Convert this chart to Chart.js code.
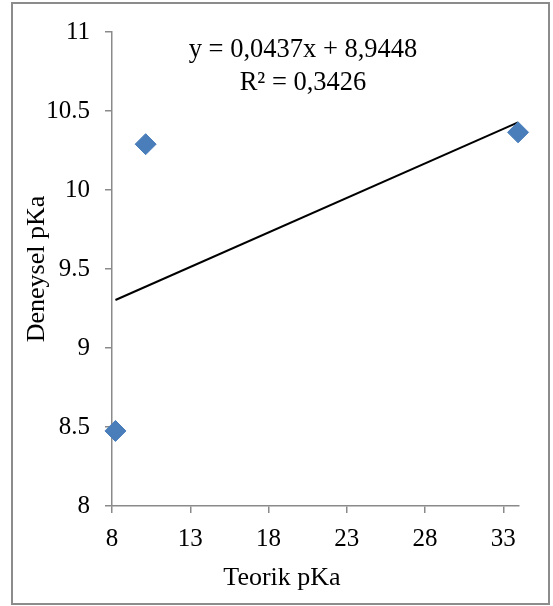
<!DOCTYPE html>
<html>
<head>
<meta charset="utf-8">
<script src="https://cdn.jsdelivr.net/npm/chart.js@4.4.1/dist/chart.umd.min.js"></script>
<style>
  html, body { margin: 0; padding: 0; background: #ffffff; }
  #wrap { width: 553px; height: 606px; position: relative; }
</style>
</head>
<body>
<div id="wrap"><canvas id="c" width="553" height="606"></canvas></div>
<script>
// ---- data ----
const teorikPKa   = [8.22, 10.15, 33.94];     // x values
const deneyselPKa = [8.475, 10.29, 10.365];   // y values
const trendX = [8.22, 33.94];                 // trend line ends (x)
const trendY = [9.304, 10.428];               // trend line ends (y)
const xTicks = [8, 13, 18, 23, 28, 33];
const yTicks = [8, 8.5, 9, 9.5, 10, 10.5, 11];
const equationLines = ['y = 0,0437x + 8,9448', 'R\u00B2 = 0,3426'];
const xTitle = 'Teorik pKa';
const yTitle = 'Deneysel pKa';

const FONT = '"Times New Roman", "Liberation Serif", serif';
const AXIS_GRAY = '#8a8a8a';

const framePlugin = {
  id: 'frame',
  beforeDraw(chart) {
    const ctx = chart.ctx;
    ctx.save();
    ctx.fillStyle = '#ffffff';
    ctx.fillRect(0, 0, chart.width, chart.height);
    ctx.strokeStyle = '#8c8c8c';
    ctx.lineWidth = 2;
    ctx.strokeRect(12, 3, 537, 601);
    ctx.restore();
  },
  afterDraw(chart) {
    const ctx = chart.ctx;
    ctx.save();
    ctx.fillStyle = '#000000';
    ctx.textAlign = 'center';
    ctx.textBaseline = 'middle';
    ctx.font = '26.5px ' + FONT;
    ctx.fillText(equationLines[0], 303, 50);
    ctx.fillText(equationLines[1], 303, 83);
    ctx.font = '26px ' + FONT;
    ctx.fillText(xTitle, 282, 578);
    ctx.restore();
  }
};

const points = teorikPKa.map((x, i) => ({ x: x, y: deneyselPKa[i] }));
const trend = trendX.map((x, i) => ({ x: x, y: trendY[i] }));

new Chart(document.getElementById('c'), {
  type: 'scatter',
  data: {
    datasets: [
      {
        label: 'Deneysel pKa',
        data: points,
        pointStyle: 'rectRot',
        pointRadius: 10.5,
        pointHoverRadius: 10.5,
        backgroundColor: '#4a7ebb',
        borderColor: '#4a7ebb',
        borderWidth: 1,
        clip: false,
        order: 1
      },
      {
        label: 'Trend',
        type: 'line',
        data: trend,
        borderColor: '#000000',
        borderWidth: 2,
        pointRadius: 0,
        fill: false,
        showLine: true,
        clip: false,
        order: 2
      }
    ]
  },
  options: {
    responsive: false,
    animation: false,
    devicePixelRatio: 1,
    layout: { padding: { left: 0, right: 34, top: 32, bottom: 0 } },
    plugins: {
      legend: { display: false },
      tooltip: { enabled: false }
    },
    scales: {
      x: {
        type: 'linear',
        min: 8,
        max: 34,
        afterBuildTicks(scale) { scale.ticks = xTicks.map(v => ({ value: v })); },
        afterFit(scale) { scale.height = 100; },
        border: { display: true, color: AXIS_GRAY, width: 1.5 },
        grid: { display: true, drawOnChartArea: false, drawTicks: true, tickLength: 7, color: AXIS_GRAY, lineWidth: 1.5 },
        ticks: { color: '#000000', padding: 11, font: { family: FONT, size: 25 }, maxRotation: 0 },
        title: { display: false }
      },
      y: {
        type: 'linear',
        min: 8,
        max: 11,
        afterBuildTicks(scale) { scale.ticks = yTicks.map(v => ({ value: v })); },
        afterFit(scale) { scale.width = 112; },
        border: { display: true, color: AXIS_GRAY, width: 1.5 },
        grid: { display: true, drawOnChartArea: false, drawTicks: true, tickLength: 7, color: AXIS_GRAY, lineWidth: 1.5 },
        ticks: { color: '#000000', padding: 15, font: { family: FONT, size: 25 },
                 callback: v => String(v) },
        title: { display: true, text: yTitle, color: '#000000', font: { family: FONT, size: 26 }, padding: { top: 22, bottom: 0 } }
      }
    }
  },
  plugins: [framePlugin]
});
</script>
</body>
</html>
